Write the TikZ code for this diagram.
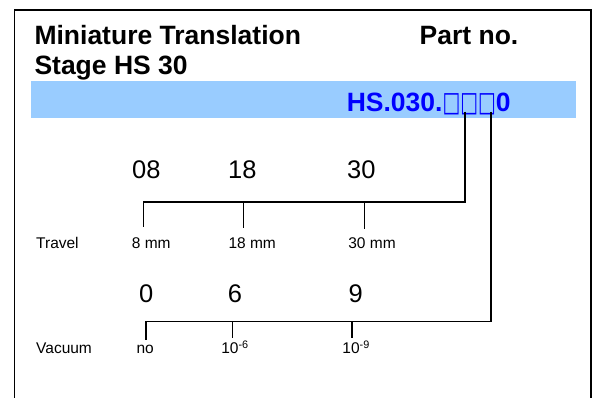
\documentclass[tikz,border=0pt]{standalone}
\usepackage{fontspec}
\setmainfont{Liberation Sans}
\newfontfamily\symfont{DejaVu Sans}
\usetikzlibrary{positioning}

\definecolor{bandblue}{RGB}{153,204,255}
\definecolor{partblue}{RGB}{0,0,255}

\tikzset{
    conn/.style={line width=1.3pt},
    txt/.style={inner sep=0pt, anchor=base},
    small/.style={txt, font=\fontsize{15.5}{18}\selectfont},
    big/.style={txt, font=\fontsize{25.5}{30}\selectfont},
    head/.style={inner sep=0pt, anchor=base west, font=\fontsize{26.5}{30}\selectfont\bfseries},
}

\begin{document}
\begin{tikzpicture}[x=1pt, y=-1pt]
    \useasboundingbox (0,0) rectangle (598,398);
    \fill[bandblue] (31,81) rectangle (576,117.7);
    \draw[line width=1.6pt] (14.6,398) -- (14.6,10) -- (591,10) -- (591,398);

    \node[head](title)  at (34.3,44.5) {Miniature Translation};
    \node[head](stage)  at (34.3,75)   {Stage HS 30};
    \node[head](partno) at (419.5,44.5) {Part no.};
    \node[head, text=partblue](code) at (346.6,111.7) {HS.030.\scalebox{0.71}[1.05]{\symfont □□□}0};

    \node[big](t08) at (146.3,178.3) {08};
    \node[big](t18) at (242.3,178.3) {18};
    \node[big](t30) at (361.3,178.3) {30};

    \node[small, anchor=base west](travel) at (36,248.8) {Travel};
    \node[small](mm8)  at (151.3,248.8) {8 mm};
    \node[small](mm18) at (252.2,248.8) {18 mm};
    \node[small](mm30) at (372,248.8)   {30 mm};

    \node[big](v0) at (146.1,302.3) {0};
    \node[big](v6) at (235,302.3)   {6};
    \node[big](v9) at (355.7,302.3) {9};

    \node[small, anchor=base west](vacuum) at (36,354) {Vacuum};
    \node[small](vno) at (145.2,354) {no};
    \node[small](ve6) at (235,354)   {10\textsuperscript{-6}};
    \node[small](ve9) at (356.1,354) {10\textsuperscript{-9}};

    \coordinate (sel1) at (465,111.7);
    \coordinate (sel2) at (491,111.7);
    \coordinate (jt08) at (143.7,202);
    \coordinate (jt18) at (243.4,202);
    \coordinate (jt30) at (364.2,202);
    \coordinate (tk08) at (143.7,226.7);
    \coordinate (tk18) at (243.4,227.7);
    \coordinate (tk30) at (364.2,229.3);
    \coordinate (jv0) at (146,321.7);
    \coordinate (jv6) at (232.7,321.7);
    \coordinate (jv9) at (352,321.7);
    \coordinate (kv0) at (146,340);
    \coordinate (kv6) at (232.7,338.3);
    \coordinate (kv9) at (352,338.3);

    \draw[conn] (sel1) |- (jt08) -- (tk08);
    \draw[conn] (jt18) -- (tk18);
    \draw[conn] (jt30) -- (tk30);
    \draw[conn] (sel2) |- (jv0) -- (kv0);
    \draw[conn] (jv6) -- (kv6);
    \draw[conn] (jv9) -- (kv9);
\end{tikzpicture}
\end{document}
